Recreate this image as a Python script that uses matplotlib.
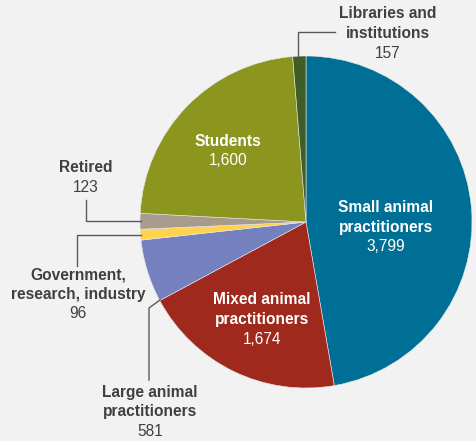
import matplotlib.pyplot as plt

labels = ["Small animal\npractitioners", "Mixed animal\npractitioners", "Large animal\npractitioners",
          "Government,\nresearch, industry", "Retired", "Students", "Libraries and\ninstitutions"]
values = [3799, 1674, 581, 96, 123, 1600, 157]
# slice sizes as drawn in the original graphic (% of circle)
shares = [47.3, 19.9, 6.1, 1.05, 1.53, 22.9, 1.28]
colors = ["#006f95", "#a0291e", "#7580bf", "#ffd24f", "#a89b8e", "#8c961f", "#3e5d27"]

W, H = 477, 441
bg = "#f2f2f2"
dark = "#404040"

fig = plt.figure(figsize=(W / 100, H / 100), dpi=100, facecolor=bg)
ax = fig.add_axes([0, 0, 1, 1])
ax.set_facecolor(bg)


def Y(py):
    return H - py


ax.pie(shares, colors=colors, startangle=90, counterclock=False,
       center=(306, Y(222)), radius=166,
       wedgeprops=dict(linewidth=0.4, edgecolor="#e8e8e8"))
ax.set_xlim(0, W)
ax.set_ylim(0, H)
ax.set_aspect("equal")
ax.axis("off")

font = ["Liberation Sans", "DejaVu Sans"]


def label(x, y, i, color, size=11.2):
    # bold name lines above, regular value below
    lines = labels[i].split("\n")
    step = 19.5
    for k, ln in enumerate(lines):
        ax.text(x, Y(y + k * step), ln, ha="center", va="center", color=color,
                fontsize=size, fontweight="bold", family=font)
    ax.text(x, Y(y + len(lines) * step), f"{values[i]:,}", ha="center", va="center",
            color=color, fontsize=size, family=font)


label(386, 208, 0, "white")
label(262, 300, 1, "white")
label(150, 392, 2, dark)
label(78, 275, 3, dark)
label(86, 168, 4, dark)
label(228, 141, 5, "white")
label(388, 14, 6, dark)

lc = "#5a5a5a"
lw = 1.0
# leader lines
ax.plot([298, 298, 335], [Y(56), Y(32), Y(32)], color=lc, lw=lw)
ax.plot([86, 86, 141], [Y(200), Y(221), Y(221)], color=lc, lw=lw)
ax.plot([141, 77, 77], [Y(235), Y(235), Y(266)], color=lc, lw=lw)
ax.plot([160, 149, 149], [Y(300), Y(308), Y(380)], color=lc, lw=lw)

fig.savefig("out.png", dpi=100, facecolor=bg)
